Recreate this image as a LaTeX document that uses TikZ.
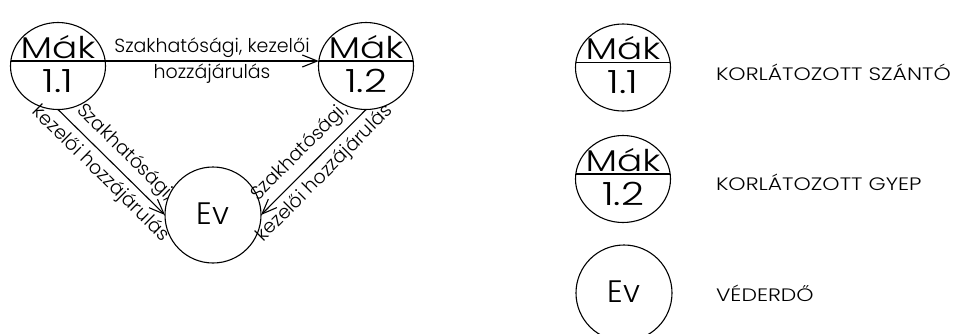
\documentclass[tikz,border=0pt]{standalone}
\usepackage{fontspec}
\IfFontExistsTF{Poppins Light}{\def\myfamname{Poppins Light}}{\def\myfamname{Poppins}}
\setmainfont{\myfamname}
\newfontfamily\widefont{\myfamname}[FakeStretch=1.25]
\newfontfamily\legfont{\myfamname}[FakeStretch=1.22]
\usetikzlibrary{arrows.meta,shapes.geometric,calc}
\begin{document}
\begin{tikzpicture}[x=1pt,y=-1pt,
  every node/.style={inner sep=0pt, outer sep=0pt},
  ring/.style={draw, line width=1.1pt, ellipse, minimum width=95pt, minimum height=87pt},
  evring/.style={draw, line width=1.1pt, circle, minimum size=96pt},
  big/.style={font=\widefont\fontsize{30}{30}\selectfont},
  digits/.style={font=\widefont\fontsize{32}{32}\selectfont},
  evtext/.style={font=\fontsize{31}{31}\selectfont},
  lbl/.style={font=\fontsize{19}{19}\selectfont, inner sep=3pt},
  dlbl/.style={font=\fontsize{19}{19}\selectfont, inner sep=6.5pt},
  leg/.style={font=\legfont\fontsize{18}{18}\selectfont, anchor=base west},
  arr/.style={line width=1.1pt, -{Straight Barb[length=15pt,width=12pt,line width=1.1pt]}},
  divider/.style={line width=1.1pt}
]
\useasboundingbox (0,0) rectangle (959,333);

% ---- left diagram ----
\node[ring] (m11) at (58,66) {};
\node[ring] (m12) at (366,66) {};
\node[evring] (ev) at (213,215) {};
\node[big, anchor=base] (m11t) at (58,58) {Mák};
\node[digits, anchor=base] (m11b) at (58,92) {1.1};
\node[big, anchor=base] (m12t) at (366,58) {Mák};
\node[digits, anchor=base] (m12b) at (366,92) {1.2};
\node[evtext] (evt) at (213,214) {Ev};

\coordinate (m11w) at ($(m11.center)+(-47.2,-5)$);
\coordinate (m11e) at ($(m11.center)+(47.2,-5)$);
\coordinate (m12w) at ($(m12.center)+(-47.2,-5)$);
\coordinate (m12e) at ($(m12.center)+(47.2,-5)$);
\draw[divider] (m11w) -- (m11e);
\draw[divider] (m12w) -- (m12e);

\draw[arr] (m11e) -- (m12w)
  node[lbl, midway, above] {Szakhatósági, kezelői}
  node[lbl, midway, below] {hozzájárulás};
\draw[arr] (m11.south) -- (ev.west)
  node[dlbl, pos=0.52, sloped, above] {Szakhatósági,}
  node[dlbl, pos=0.5, sloped, below] {kezelői hozzájárulás};
\draw[arr] (m12.south) -- (ev.east)
  node[dlbl, pos=0.52, sloped, above] {Szakhatósági,}
  node[dlbl, pos=0.5, sloped, below] {kezelői hozzájárulás};

% ---- legend ----
\node[ring] (l1) at (623,67.5) {};
\node[ring] (l2) at (623,179) {};
\node[evring] (l3) at (624,293) {};
\coordinate (l1w) at ($(l1.center)+(-47.2,-5)$);
\coordinate (l1e) at ($(l1.center)+(47.2,-5)$);
\coordinate (l2w) at ($(l2.center)+(-47.2,-5)$);
\coordinate (l2e) at ($(l2.center)+(47.2,-5)$);
\draw[divider] (l1w) -- (l1e);
\draw[divider] (l2w) -- (l2e);
\node[big, anchor=base] (l1t) at (623,59.5) {Mák};
\node[digits, anchor=base] (l1b) at (623,93.5) {1.1};
\node[big, anchor=base] (l2t) at (623,171) {Mák};
\node[digits, anchor=base] (l2b) at (623,205) {1.2};
\node[evtext] (l3t) at (624,292) {Ev};

\node[leg] (k1) at (716,80) {KORLÁTOZOTT SZÁNTÓ};
\node[leg] (k2) at (716,190) {KORLÁTOZOTT GYEP};
\node[leg] (k3) at (716,301) {VÉDERDŐ};
\end{tikzpicture}
\end{document}
